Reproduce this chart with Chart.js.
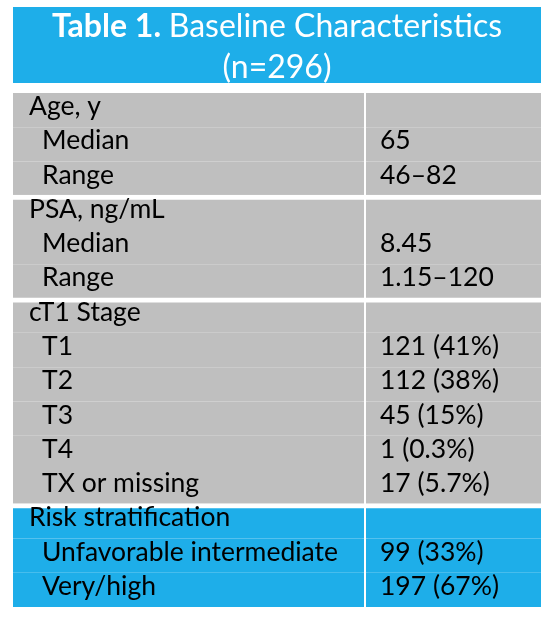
<!DOCTYPE html>
<html>
<head>
<meta charset="utf-8">
<script src="https://cdn.jsdelivr.net/npm/chart.js@4.4.1/dist/chart.umd.min.js"></script>
<style>
  html, body { margin: 0; padding: 0; background: #fff; }
  #wrap { width: 548px; height: 618px; }
</style>
</head>
<body>
<div id="wrap"><canvas id="tableChart"></canvas></div>
<script>
// table content
const titleBold = "Table 1.";
const titleRest = "Baseline Characteristics";
const titleSub = "(n=296)";

const rowLabels = [
  "Age, y", "Median", "Range",
  "PSA, ng/mL", "Median", "Range",
  "cT1 Stage", "T1", "T2", "T3", "T4", "TX or missing",
  "Risk stratification", "Unfavorable intermediate", "Very/high"
];
const rowValues = [
  "", "65", "46–82",
  "", "8.45", "1.15–120",
  "", "121 (41%)", "112 (38%)", "45 (15%)", "1 (0.3%)", "17 (5.7%)",
  "", "99 (33%)", "197 (67%)"
];
const rowGroups = [
  "age", "age", "age",
  "psa", "psa", "psa",
  "stage", "stage", "stage", "stage", "stage", "stage",
  "risk", "risk", "risk"
];
// first row of each group is the heading, the rest are indented
const rowIsSub = rowGroups.map((g, i) => i > 0 && rowGroups[i - 1] === g);

const BLUE = "#1eaee9";
const GRAY = "#bfbfbf";
const fillFor = (g) => (g === "risk" ? BLUE : GRAY);
const FONT = "Lato, 'Open Sans', sans-serif";

// white gap above every block except the first
const blockTop = (i) => (i > 0 && !rowIsSub[i] ? 5 : 0);

const tableText = {
  id: "tableText",
  afterDatasetsDraw(chart) {
    const { ctx, chartArea } = chart;
    const x = chart.scales.x;
    const y = chart.scales.y;

    // header band
    ctx.save();
    ctx.fillStyle = BLUE;
    ctx.fillRect(chartArea.left, chartArea.top - 86, chartArea.right - chartArea.left, 76);
    ctx.fillStyle = "#fff";
    ctx.textBaseline = "alphabetic";
    const boldFont = "bold 32px " + FONT;
    const normFont = "32px " + FONT;
    ctx.font = boldFont;
    const wBold = ctx.measureText(titleBold + " ").width;
    ctx.font = normFont;
    const wRest = ctx.measureText(titleRest).width;
    const cx = (chartArea.left + chartArea.right) / 2;
    let start = cx - (wBold + wRest) / 2;
    ctx.textAlign = "left";
    ctx.font = boldFont;
    ctx.fillText(titleBold, start, chartArea.top - 56);
    ctx.font = normFont;
    ctx.fillText(titleRest, start + wBold, chartArea.top - 56);
    ctx.textAlign = "center";
    ctx.fillText(titleSub, cx, chartArea.top - 15);

    // cell text
    ctx.fillStyle = "#000";
    ctx.textAlign = "left";
    ctx.font = "26.5px " + FONT;
    const colLeft = x.getPixelForValue(0);
    const colMid = x.getPixelForValue(2);
    rowLabels.forEach((label, i) => {
      const yy = y.getPixelForValue(i) + 5;
      ctx.fillText(label, colLeft + (rowIsSub[i] ? 29 : 16), yy);
      if (rowValues[i]) ctx.fillText(rowValues[i], colMid + 15, yy);
    });
    ctx.restore();
  }
};

new Chart(document.getElementById("tableChart"), {
  type: "bar",
  data: {
    labels: rowLabels,
    datasets: [
      {
        label: "Characteristic",
        data: rowLabels.map(() => [0, 2]),
        backgroundColor: rowGroups.map(fillFor),
        borderColor: "#fff",
        borderWidth: rowLabels.map((_, i) => ({ top: blockTop(i), right: 2, bottom: 0, left: 0 })),
        borderSkipped: false,
        inflateAmount: 1
      },
      {
        label: "Value",
        data: rowLabels.map(() => [2, 3]),
        backgroundColor: rowGroups.map(fillFor),
        borderColor: "#fff",
        borderWidth: rowLabels.map((_, i) => ({ top: blockTop(i), right: 0, bottom: 0, left: 2 })),
        borderSkipped: false,
        inflateAmount: 1
      }
    ]
  },
  options: {
    indexAxis: "y",
    responsive: true,
    maintainAspectRatio: false,
    animation: false,
    grouped: false,
    barPercentage: 1,
    categoryPercentage: 1,
    layout: { padding: { left: 13, right: 7, top: 93, bottom: 11 } },
    plugins: {
      legend: { display: false },
      tooltip: { enabled: false },
      title: { display: false }
    },
    scales: {
      x: { type: "linear", min: 0, max: 3, display: false },
      y: { type: "category", display: false }
    }
  },
  plugins: [tableText]
});
</script>
</body>
</html>
